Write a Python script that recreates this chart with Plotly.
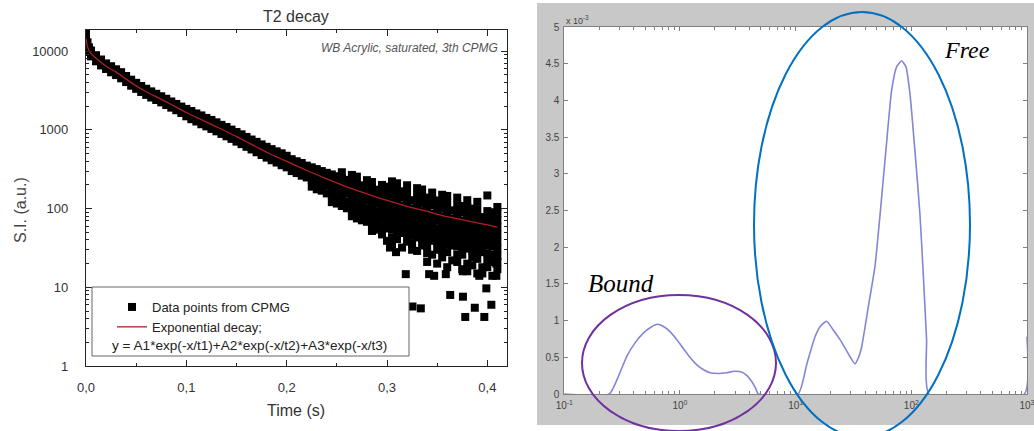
import plotly.graph_objects as go

W, H = 1034, 431


def px(x):
    return x / W


def py(y):
    return 1 - y / H


# ---------------- Left panel: T2 decay (CPMG) ----------------
fit_time_s = [0.0, 0.001, 0.002, 0.003, 0.005, 0.01, 0.02, 0.03, 0.04, 0.05, 0.06, 0.07,
              0.08, 0.09, 0.10, 0.11, 0.12, 0.13, 0.14, 0.15, 0.16, 0.17, 0.18, 0.19, 0.20,
              0.22, 0.24, 0.26, 0.28, 0.30, 0.32, 0.34, 0.36, 0.38, 0.40, 0.41]
fit_si = [14450, 12020, 10960, 10230, 9330, 8130, 6460, 5430, 4420, 3630, 3055, 2630,
          2270, 1950, 1667, 1445, 1259, 1096, 955, 822, 708, 607, 521, 454, 398,
          305, 239, 189, 154, 127, 107, 92, 79, 70, 62, 58]

start_time_s = [0.0, 0.0, 0.0, 0.0, 0.0015, 0.0015, 0.003, 0.003]
start_si = [17800, 15600, 13600, 11900, 13000, 11000, 11200, 9800]

early_time_s = [0.005, 0.010, 0.015, 0.020, 0.025, 0.030, 0.035, 0.040, 0.045, 0.050,
                0.055, 0.060, 0.065, 0.070, 0.075, 0.080, 0.085, 0.090, 0.095, 0.100,
                0.105, 0.110, 0.115, 0.120, 0.125, 0.130, 0.135, 0.140, 0.145, 0.150,
                0.155, 0.160, 0.165, 0.170, 0.175, 0.180, 0.185, 0.190, 0.195, 0.200]
early_upper_si = [10200, 8900, 7850, 7000, 6450, 5900, 5420, 4850, 4350, 3970,
                  3620, 3340, 3090, 2880, 2680, 2490, 2300, 2140, 1980, 1850,
                  1740, 1620, 1530, 1420, 1340, 1250, 1160, 1090, 1010, 940,
                  880, 815, 755, 705, 655, 610, 570, 535, 505, 470]
early_lower_si = [8600, 7450, 6600, 5950, 5400, 4980, 4530, 4060, 3650, 3330,
                  3040, 2790, 2580, 2400, 2240, 2070, 1920, 1780, 1640, 1490,
                  1370, 1280, 1180, 1110, 1030, 960, 890, 830, 770, 710,
                  660, 610, 565, 520, 480, 445, 412, 385, 356, 335]

mid_time_s = [0.100, 0.105, 0.110, 0.115, 0.120, 0.125, 0.130, 0.135, 0.140, 0.145,
              0.150, 0.155, 0.160, 0.165, 0.170, 0.175, 0.180, 0.185, 0.190, 0.195, 0.200]
mid_si = [1690, 1530, 1460, 1330, 1270, 1160, 1110, 1010, 960, 880,
          830, 750, 715, 645, 612, 555, 525, 480, 460, 420, 400]

late_time_s = [0.205, 0.210, 0.215, 0.220, 0.225, 0.230,
               0.235, 0.240, 0.245, 0.250, 0.255, 0.260,
               0.265, 0.270, 0.275, 0.280, 0.285, 0.290,
               0.295, 0.300, 0.305, 0.310, 0.315, 0.320,
               0.325, 0.330, 0.335, 0.340, 0.345, 0.350,
               0.355, 0.360, 0.365, 0.370, 0.375, 0.380,
               0.385, 0.390, 0.395, 0.400, 0.405, 0.410]
N = None
late_row_a = [425, 400, 380, 352, 335, 318,
              300, 285, 272, 258, 243, 232,
              220, 212, 198, 190, 178, 174,
              162, 158, 150, 142, 138, 130,
              128, 120, 118, 112, 110, 104,
              101, 96, 95, 90, 89, 85,
              83, 79, 78, 75, 74, 71]
late_row_b = [370, 350, 322, 308, 282, 272,
              250, 242, 222, 215, 197, 192,
              177, 174, 159, 156, 143, 142,
              130, 129, 120, 118, 109, 109,
              101, 100, 93, 93, 86, 86,
              80, 80, 75, 75, 70, 71,
              66, 66, 62, 63, 59, 58]
late_row_c = [300, 283, 262, 249, 230, 219,
              204, 195, 181, 173, 161, 155,
              145, 140, 130, 126, 117, 115,
              107, 104, 98, 95, 89, 88,
              83, 81, 76, 75, 71, 70,
              66, 65, 62, 61, 58, 57,
              54, 53, 51, 51, 48, 47]
late_row_d = [N, N, N, N, 190, 176,
              169, 156, 150, 139, 133, 123,
              119, 112, 107, 101, 96, 92,
              88, 83, 81, 76, 73, 70,
              68, 65, 63, 60, 58, 56,
              54, 52, 51, 49, 48, 46,
              44, 43, 42, 41, 40, 38]
late_row_e = [N, N, N, N, N, N,
              N, N, N, N, 290, N,
              268, 255, N, 230, 218, N,
              200, 190, 182, 172, 166, 160,
              N, 148, 142, 138, 132, 127,
              123, 118, N, 111, 108, 105,
              100, 98, N, 93, 90, 87]
late_row_f = [N, N, N, N, N, N,
              N, N, N, N, N, N,
              N, N, N, N, N, N,
              N, N, 222, 210, N, 198,
              N, 182, 175, N, 160, N,
              150, 145, N, 138, N, 128,
              N, 122, N, 147, N, 105]
late_row_g = [N, N, N, N, N, N,
              N, N, 121, 116, 108, 101,
              98, 92, 88, 83, 79, 76,
              72, 68, 66, 63, 60, 57,
              56, 53, 51, 49, 48, 46,
              44, 42, 42, 40, 39, 38,
              36, 35, 34, 34, 33, 31]
late_row_h = [N, N, N, N, N, N,
              N, N, N, N, N, N,
              80, 75, 71, 68, 64, 61,
              58, 56, 54, 51, 49, 47,
              45, 43, 42, 40, 39, 37,
              36, 35, 34, 33, 32, 31,
              29, 29, 28, 27, 26, 25]
late_row_i = [N, N, N, N, N, N,
              N, N, N, N, N, N,
              N, N, N, N, 52, N,
              47, N, 43, 41, N, 38,
              36, N, 34, 33, N, 30,
              29, 28, N, 26, 26, N,
              24, 23, N, 22, 21, 21]
late_row_j = [N, N, N, N, N, N,
              N, N, N, N, N, N,
              N, N, N, N, N, N,
              N, N, 35, N, 32, N,
              30, 29, N, 27, 26, N,
              24, N, 22, 21, N, 20,
              19, N, 18, 18, N, 17]
late_row_k = [N, N, N, N, N, N,
              N, N, N, N, N, N,
              N, N, N, N, N, N,
              N, N, N, N, N, N,
              N, N, N, 21, N, 20,
              N, 18, N, N, 17, 16,
              N, 15, 15, N, 14, N]

outlier_time_s = [0.290, 0.300, 0.303, 0.309, 0.3187, 0.3254, 0.3337, 0.342, 0.347,
                  0.3586, 0.363, 0.3755, 0.3757, 0.378, 0.3875, 0.392, 0.397, 0.399,
                  0.404, 0.409, 0.409]
outlier_si = [54, 39, 32, 28, 14.7, 5.7, 5.4, 14.7, 14,
              14.7, 8.0, 16, 7.6, 4.2, 5.5, 14, 4.2, 9.7,
              6.0, 14, 20]

y_tick_vals = [1, 10, 100, 1000, 10000]
y_tick_text = ["1", "10", "100", "1000", "10000"]
x_tick_vals = [0.0, 0.1, 0.2, 0.3, 0.4]
x_tick_text = ["0,0", "0,1", "0,2", "0,3", "0,4"]

# ---------------- Right panel: T2 distribution ----------------
t2_ms = [0.1, 0.245, 0.29, 0.346, 0.41, 0.482, 0.56, 0.637, 0.72, 0.82,
         0.94, 1.07, 1.22, 1.39, 1.6, 1.82, 2.15, 2.53, 2.95, 3.41,
         3.8, 4.17, 4.5, 4.75, 10.5, 12.5, 14.7, 16.5, 18.5, 21,
         24.2, 28, 30, 32.6, 35, 37.2, 42.5, 48.5, 53.5, 60.3,
         67.6, 74.7, 82.4, 89.8, 97.2, 107.4, 118.6, 126.7, 135.5, 142,
         950, 1000]
amplitude_e3 = [0, 0, 0.22, 0.51, 0.70, 0.83, 0.91, 0.95, 0.92, 0.85,
                0.74, 0.62, 0.50, 0.40, 0.33, 0.29, 0.28, 0.29, 0.31, 0.30,
                0.25, 0.17, 0.08, 0, 0, 0.41, 0.78, 0.93, 0.99, 0.88,
                0.74, 0.57, 0.49, 0.41, 0.50, 0.64, 1.19, 1.74, 2.42, 3.32,
                4.14, 4.46, 4.54, 4.46, 4.10, 3.32, 2.46, 1.65, 0.74, 0,
                0, 0.78]
t2_tick_vals = [0.1, 1, 10, 100, 1000]
t2_tick_text = ["10<sup>-1</sup>", "10<sup>0</sup>", "10<sup>1</sup>",
                "10<sup>2</sup>", "10<sup>3</sup>"]

# ---------- assemble scatter points ----------
pts_t, pts_v = [], []
pts_t += start_time_s
pts_v += start_si
for row in (early_upper_si, early_lower_si):
    pts_t += early_time_s
    pts_v += row
pts_t += mid_time_s
pts_v += mid_si
for row in (late_row_a, late_row_b, late_row_c, late_row_d, late_row_e, late_row_f,
            late_row_g, late_row_h, late_row_i, late_row_j, late_row_k):
    for t, v in zip(late_time_s, row):
        if v is not None:
            pts_t.append(t)
            pts_v.append(v)
pts_t += outlier_time_s
pts_v += outlier_si

SANS = "Liberation Sans, Arial, sans-serif"
SERIF = "Liberation Serif, Times New Roman, serif"

fig = go.Figure()
fig.add_trace(go.Scatter(
    x=pts_t, y=pts_v, mode="markers", name="Data points from CPMG",
    marker=dict(symbol="square", size=8, color="black", line=dict(width=0)),
    xaxis="x", yaxis="y"))
fig.add_trace(go.Scatter(
    x=fit_time_s, y=fit_si, mode="lines", name="Exponential decay;",
    line=dict(color="#b01e24", width=1.3, shape="spline", smoothing=0.6),
    xaxis="x", yaxis="y"))
fig.add_trace(go.Scatter(
    x=t2_ms, y=amplitude_e3, mode="lines", showlegend=False,
    line=dict(color="#8585d6", width=1.6, shape="spline", smoothing=0.5),
    xaxis="x2", yaxis="y2"))

left_minor_y = [m * 10 ** e for e in range(0, 5) for m in range(2, 10) if m * 10 ** e < 18600]
left_minor_x = [0.05, 0.15, 0.25, 0.35]
right_minor_x = [m * 10 ** e for e in range(-1, 3) for m in range(2, 10)]

fig.update_layout(
    width=W, height=H, autosize=False,
    margin=dict(l=0, r=0, t=0, b=0, autoexpand=False),
    paper_bgcolor="white", plot_bgcolor="white",
    showlegend=True,
    legend=dict(x=px(112), y=py(292), xanchor="left", yanchor="top",
                bgcolor="rgba(0,0,0,0)", borderwidth=0,
                font=dict(family=SANS, size=13, color="#222"),
                tracegroupgap=0, itemwidth=30),
    xaxis=dict(domain=[px(86), px(507)], anchor="y", range=[0, 0.4196], automargin=False,
               tickmode="array", tickvals=x_tick_vals, ticktext=x_tick_text,
               ticks="inside", ticklen=6, tickwidth=1, tickcolor="#222",
               showline=True, linecolor="#222", linewidth=1.2, mirror="ticks",
               showgrid=False, zeroline=False, ticklabelstandoff=9,
               tickfont=dict(family=SANS, size=13, color="#333"),
               minor=dict(tickmode="array", tickvals=left_minor_x, ticks="inside",
                          ticklen=3, tickcolor="#222", showgrid=False)),
    yaxis=dict(domain=[py(366), py(30)], anchor="x", type="log", range=[0, 4.27],
               automargin=False,
               tickmode="array", tickvals=y_tick_vals, ticktext=y_tick_text,
               ticks="inside", ticklen=6, tickwidth=1, tickcolor="#222",
               showline=True, linecolor="#222", linewidth=1.2, mirror="ticks",
               showgrid=False, zeroline=False, ticklabelstandoff=14,
               tickfont=dict(family=SANS, size=13, color="#333"),
               minor=dict(tickmode="array", tickvals=left_minor_y, ticks="inside",
                          ticklen=3, tickcolor="#222", showgrid=False)),
    xaxis2=dict(domain=[px(564.3), px(1027)], anchor="y2", type="log", range=[-1, 3],
                automargin=False, ticklabeloverflow="allow",
                tickmode="array", tickvals=t2_tick_vals, ticktext=t2_tick_text,
                ticks="inside", ticklen=4, tickcolor="#808080",
                showline=True, linecolor="#808080", linewidth=1, mirror="ticks",
                showgrid=False, zeroline=False, ticklabelstandoff=2,
                tickfont=dict(family=SANS, size=10, color="#444"),
                minor=dict(tickmode="array", tickvals=right_minor_x, ticks="inside",
                           ticklen=3, tickcolor="#808080", showgrid=False)),
    yaxis2=dict(domain=[py(394), py(27)], anchor="x2", range=[0, 5],
                automargin=False,
                tick0=0, dtick=0.5,
                ticks="inside", ticklen=4, tickcolor="#808080",
                showline=True, linecolor="#808080", linewidth=1, mirror="ticks",
                showgrid=False, zeroline=False, ticklabelstandoff=2,
                tickfont=dict(family=SANS, size=10, color="#444")),
)

shapes = []
# gray frame around right panel (outer minus inner)
gray_path = (f"M{px(537)},{py(3)} L{px(1034)},{py(3)} L{px(1034)},{py(425)} L{px(537)},{py(425)} Z "
             f"M{px(564)},{py(27)} L{px(564)},{py(394)} L{px(1027)},{py(394)} L{px(1027)},{py(27)} Z")
shapes.append(dict(type="path", path=gray_path, xref="paper", yref="paper",
                   fillcolor="#c8c8c8", line=dict(width=0), layer="below"))
# legend box
shapes.append(dict(type="rect", xref="paper", yref="paper",
                   x0=px(92), x1=px(409), y0=py(356), y1=py(287),
                   line=dict(color="#666", width=1), fillcolor="white", layer="above"))
# ellipses
shapes.append(dict(type="circle", xref="paper", yref="paper",
                   x0=px(582), x1=px(776), y0=py(431), y1=py(295),
                   line=dict(color="#7030a0", width=2), layer="above"))
shapes.append(dict(type="circle", xref="paper", yref="paper",
                   x0=px(754), x1=px(970), y0=py(437), y1=py(12),
                   line=dict(color="#0070c0", width=2), layer="above"))
fig.update_layout(shapes=shapes)

ann = []
ann.append(dict(text="T2 decay", x=px(296), y=py(17), xref="paper", yref="paper",
                showarrow=False, xanchor="center", yanchor="middle",
                font=dict(family=SANS, size=16, color="#333")))
ann.append(dict(text="<i>WB Acrylic, saturated, 3th CPMG</i>", x=px(500), y=py(48),
                xref="paper", yref="paper", showarrow=False, xanchor="right",
                yanchor="middle", font=dict(family=SANS, size=12, color="#555")))
ann.append(dict(text="S.I. (a.u.)", x=px(20), y=py(210), xref="paper", yref="paper",
                showarrow=False, textangle=-90, xanchor="center", yanchor="middle",
                font=dict(family=SANS, size=16, color="#444")))
ann.append(dict(text="Time (s)", x=px(296), y=py(410), xref="paper", yref="paper",
                showarrow=False, xanchor="center", yanchor="middle",
                font=dict(family=SANS, size=16, color="#333")))
ann.append(dict(text="y = A1*exp(-x/t1)+A2*exp(-x/t2)+A3*exp(-x/t3)", x=px(110), y=py(345.5),
                xref="paper", yref="paper", showarrow=False, xanchor="left",
                yanchor="middle", font=dict(family=SANS, size=13.6, color="#222")))
ann.append(dict(text="x 10<sup>-3</sup>", x=px(564), y=py(20), xref="paper", yref="paper",
                showarrow=False, xanchor="left", yanchor="middle",
                font=dict(family=SANS, size=9, color="#444")))
ann.append(dict(text="<i>Bound</i>", x=px(586), y=py(283), xref="paper", yref="paper",
                showarrow=False, xanchor="left", yanchor="middle",
                font=dict(family=SERIF, size=25, color="black")))
ann.append(dict(text="<i>Free</i>", x=px(942), y=py(50), xref="paper", yref="paper",
                showarrow=False, xanchor="left", yanchor="middle",
                font=dict(family=SERIF, size=24, color="black")))
fig.update_layout(annotations=ann)

fig.write_html("out.html")
